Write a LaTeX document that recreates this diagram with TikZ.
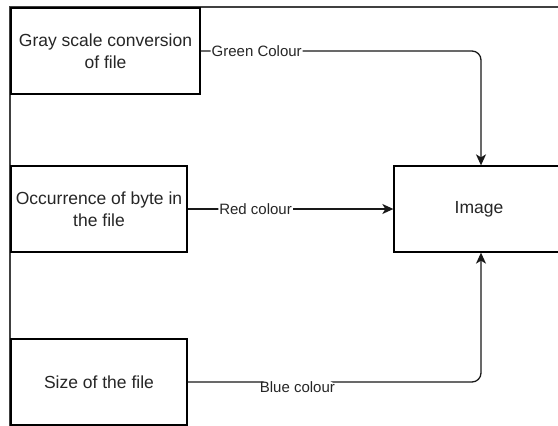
\documentclass[tikz,border=0pt]{standalone}
\usepackage{fontspec}
\setmainfont{Liberation Sans}
\usetikzlibrary{arrows.meta}
\begin{document}
\begin{tikzpicture}[x=1pt,y=-1pt,
  box/.style={draw=black,line width=1.3pt,fill=white,align=center,
    inner sep=0pt,font=\fontsize{17.5}{22}\selectfont,text=black!85},
  conn/.style={draw=black!90,line width=1.3pt,rounded corners=9pt,
    -{Stealth[length=11pt,width=10pt,inset=3pt]}},
  lbl/.style={fill=white,inner sep=1pt,font=\fontsize{15}{18}\selectfont,text=black!85},
  frameline/.style={draw=black!75,line width=2pt}]
\useasboundingbox (0,0) rectangle (558,426);
\clip (0,0) rectangle (558,426);
\fill[white] (0,0) rectangle (558,426);
% page edges
\draw[frameline] (10,426) -- (10,7) -- (558,7);
% boxes
\node[box,minimum width=189pt,minimum height=86pt] (gray) at (105.5,51)
  {Gray scale conversion\\of file};
\node[box,minimum width=176pt,minimum height=86pt] (occ) at (99,209)
  {Occurrence of byte in\\the file};
\node[box,minimum width=176pt,minimum height=86pt] (size) at (99,382)
  {Size of the file};
\node[box,minimum width=170pt,minimum height=86pt] (img) at (479,209)
  {Image};
% connectors
\draw[conn] (gray.east) -| node[lbl,pos=0.1] {Green Colour} ([xshift=2pt]img.north);
\draw[conn] (occ.east) -- node[lbl,pos=0.33] {Red colour} (img.west);
\draw[conn] (size.east) -| node[lbl,pos=0.187,yshift=-5pt] {Blue colour} ([xshift=2pt]img.south);
\end{tikzpicture}
\end{document}
